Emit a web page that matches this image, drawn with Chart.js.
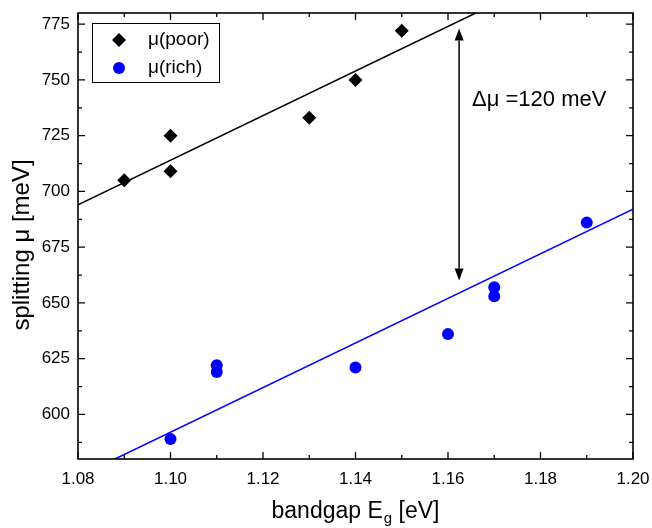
<!DOCTYPE html>
<html>
<head>
<meta charset="utf-8">
<script src="https://cdn.jsdelivr.net/npm/chart.js@4.4.0/dist/chart.umd.min.js"></script>
<style>
  html, body { margin:0; padding:0; background:#fff; }
</style>
</head>
<body>
<canvas id="c" width="652" height="528"></canvas>
<script>
/* DATA */
const poorX = [1.09, 1.10, 1.10, 1.13, 1.14, 1.15];
const poorY = [705, 725, 709, 733, 750, 772];
const richX = [1.10, 1.11, 1.11, 1.14, 1.16, 1.17, 1.17, 1.19];
const richY = [589, 622, 619, 621, 636, 657, 653, 686];
const poorFitX = [1.08, 1.166];
const poorFitY = [694, 780];
const richFitX = [1.088, 1.20];
const richFitY = [580, 692];
const arrowX = 1.1624;
const arrowY = [773, 660];
const xTicks = [1.08, 1.10, 1.12, 1.14, 1.16, 1.18, 1.20];
const yTicks = [600, 625, 650, 675, 700, 725, 750, 775];
const deltaLabel = "Δμ =120 meV";
const yTitle = "splitting μ [meV]";

const FONT = "'Liberation Sans', Arial, Helvetica, sans-serif";
const BLUE = "#0000ff";
const pts = (xs, ys) => xs.map((x, i) => ({x, y: ys[i]}));

/* minor ticks sit halfway between majors */
function minors(majors, min, max){
  const step = majors[1] - majors[0];
  const out = [];
  majors.forEach(v => {
    [v - step/2, v + step/2].forEach(m => {
      if(m >= min - 1e-9 && m <= max + 1e-9 && !out.some(o => Math.abs(o - m) < 1e-9)) out.push(m);
    });
  });
  return out;
}

const decor = {
  id: "decor",
  afterDraw(chart){
    const {ctx, chartArea: a, scales: {x, y}} = chart;
    ctx.save();
    ctx.strokeStyle = "#000";
    ctx.fillStyle = "#000";

    // frame
    ctx.lineWidth = 1.6;
    ctx.strokeRect(a.left, a.top, a.right - a.left, a.bottom - a.top);

    // inward ticks on all four sides
    ctx.lineWidth = 1.3;
    const tick = (px, len, horiz) => {
      ctx.beginPath();
      if(horiz){
        ctx.moveTo(px, a.bottom); ctx.lineTo(px, a.bottom - len);
        ctx.moveTo(px, a.top); ctx.lineTo(px, a.top + len);
      }else{
        ctx.moveTo(a.left, px); ctx.lineTo(a.left + len, px);
        ctx.moveTo(a.right, px); ctx.lineTo(a.right - len, px);
      }
      ctx.stroke();
    };
    xTicks.forEach(v => tick(x.getPixelForValue(v), 7, true));
    minors(xTicks, x.min, x.max).forEach(v => tick(x.getPixelForValue(v), 4, true));
    yTicks.forEach(v => tick(y.getPixelForValue(v), 7, false));
    minors(yTicks, y.min, y.max).forEach(v => tick(y.getPixelForValue(v), 4, false));

    // double arrow
    const ax = x.getPixelForValue(arrowX);
    const yTop = y.getPixelForValue(arrowY[0]);
    const yBot = y.getPixelForValue(arrowY[1]);
    const headL = 12, headW = 4.5;
    ctx.lineWidth = 1.5;
    ctx.beginPath();
    ctx.moveTo(ax, yTop + headL); ctx.lineTo(ax, yBot - headL);
    ctx.stroke();
    ctx.beginPath();
    ctx.moveTo(ax, yTop); ctx.lineTo(ax - headW, yTop + headL); ctx.lineTo(ax + headW, yTop + headL); ctx.closePath();
    ctx.fill();
    ctx.beginPath();
    ctx.moveTo(ax, yBot); ctx.lineTo(ax - headW, yBot - headL); ctx.lineTo(ax + headW, yBot - headL); ctx.closePath();
    ctx.fill();

    // annotation
    ctx.font = `22px ${FONT}`;
    ctx.textBaseline = "middle";
    ctx.textAlign = "left";
    ctx.fillText(deltaLabel, 472, 100);

    // legend
    ctx.lineWidth = 1;
    ctx.strokeRect(92.5, 23.5, 127, 59);
    ctx.font = `19px ${FONT}`;
    ctx.fillStyle = "#000";
    ctx.fillText("μ(poor)", 148, 40);
    ctx.fillText("μ(rich)", 148, 68);
    ctx.beginPath();
    ctx.moveTo(119, 33); ctx.lineTo(126, 40); ctx.lineTo(119, 47); ctx.lineTo(112, 40); ctx.closePath();
    ctx.fill();
    ctx.fillStyle = BLUE;
    ctx.beginPath();
    ctx.arc(119, 68, 6, 0, Math.PI * 2);
    ctx.fill();

    // y title
    ctx.fillStyle = "#000";
    ctx.save();
    ctx.translate(22, 245);
    ctx.rotate(-Math.PI / 2);
    ctx.font = `24px ${FONT}`;
    ctx.textAlign = "center";
    ctx.textBaseline = "middle";
    ctx.fillText(yTitle, 0, 0);
    ctx.restore();

    // x title with subscript
    const cx = (a.left + a.right) / 2;
    const base = 518;
    const p1 = "bandgap E", p2 = "g", p3 = " [eV]";
    ctx.textAlign = "left";
    ctx.font = `23px ${FONT}`;
    const w1 = ctx.measureText(p1).width, w3 = ctx.measureText(p3).width;
    ctx.font = `15px ${FONT}`;
    const w2 = ctx.measureText(p2).width + 1;
    let sx = cx - (w1 + w2 + w3) / 2;
    ctx.textBaseline = "alphabetic";
    ctx.font = `23px ${FONT}`;
    ctx.fillText(p1, sx, base);
    ctx.font = `15px ${FONT}`;
    ctx.fillText(p2, sx + w1 + 1, base + 5);
    ctx.font = `23px ${FONT}`;
    ctx.fillText(p3, sx + w1 + w2, base);
    ctx.restore();
  }
};

const noPad = s => { s.paddingLeft = 0; s.paddingRight = 0; s.paddingTop = 0; s.paddingBottom = 0; };

new Chart(document.getElementById("c"), {
  type: "scatter",
  data: {
    datasets: [
      { label: "μ(poor)", data: pts(poorX, poorY), pointStyle: "rectRot", pointRadius: 7,
        backgroundColor: "#000", borderColor: "#000", borderWidth: 0 },
      { label: "μ(rich)", data: pts(richX, richY), pointStyle: "circle", pointRadius: 6,
        backgroundColor: BLUE, borderColor: BLUE, borderWidth: 0 },
      { label: "fit poor", data: pts(poorFitX, poorFitY), showLine: true, pointRadius: 0,
        borderColor: "#000", borderWidth: 1.5 },
      { label: "fit rich", data: pts(richFitX, richFitY), showLine: true, pointRadius: 0,
        borderColor: BLUE, borderWidth: 1.5 }
    ]
  },
  options: {
    responsive: false,
    animation: false,
    layout: { autoPadding: false, padding: { left: 0, top: 13, right: 19, bottom: 0 } },
    plugins: { legend: { display: false }, tooltip: { enabled: false } },
    scales: {
      x: {
        type: "linear", min: 1.08, max: 1.20,
        grid: { display: false, drawTicks: false },
        border: { display: false },
        afterBuildTicks: s => { s.ticks = xTicks.map(v => ({value: v})); },
        afterFit: s => { s.height = 69; noPad(s); },
        ticks: { padding: 10, color: "#000", font: { family: FONT, size: 17 },
                 callback: v => v.toFixed(2), maxRotation: 0 }
      },
      y: {
        type: "linear", min: 580, max: 780,
        grid: { display: false, drawTicks: false },
        border: { display: false },
        afterBuildTicks: s => { s.ticks = yTicks.map(v => ({value: v})); },
        afterFit: s => { s.width = 78; noPad(s); },
        ticks: { padding: 8, color: "#000", font: { family: FONT, size: 17 } }
      }
    }
  },
  plugins: [decor]
});
</script>
</body>
</html>
